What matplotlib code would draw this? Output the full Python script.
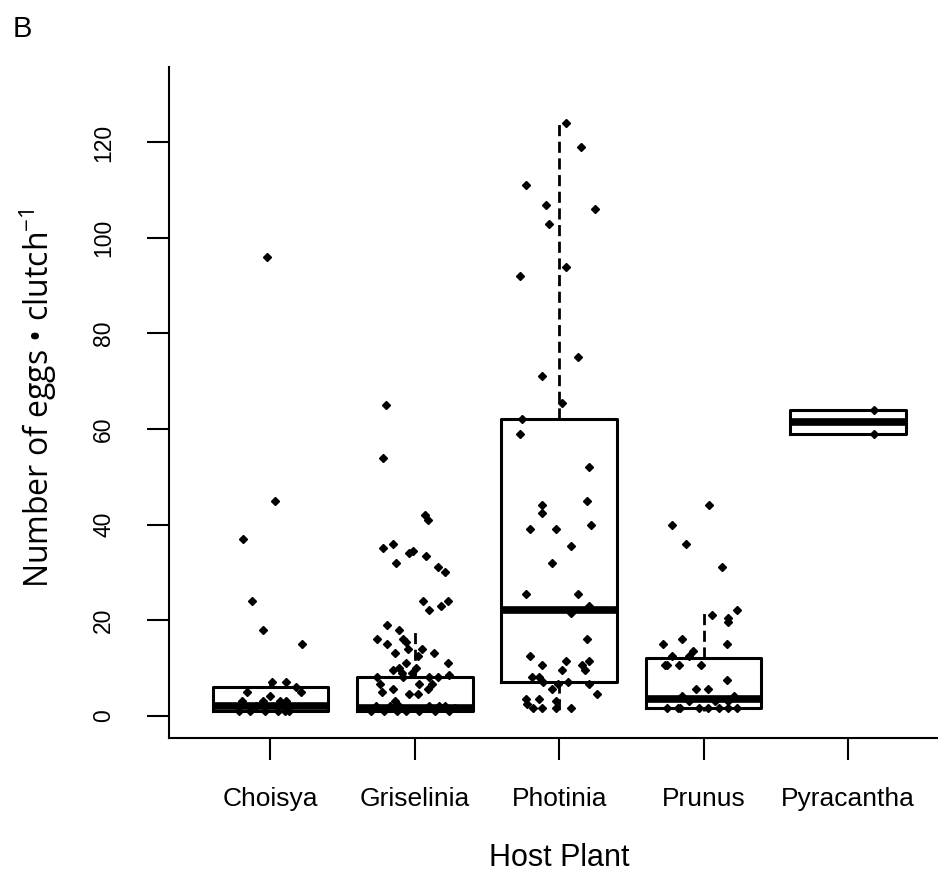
import matplotlib
matplotlib.use("Agg")
import matplotlib.pyplot as plt
import numpy as np

plants = ["Choisya", "Griselinia", "Photinia", "Prunus", "Pyracantha"]

# box statistics (R style hinges, whiskers, no outlier marks)
q1 = [1, 1, 7, 1.5, 59]
med = [2, 1.5, 22, 3.5, 61.5]
q3 = [6, 8, 62, 12, 64]
whislo = [1, 1, 1, 1, 59]
whishi = [7, 18, 124, 22, 64]

# eggs per clutch, with the horizontal jitter seen in the figure (category units)
choisya = [96, 45, 37, 24, 18, 15, 7, 7, 6, 5, 5, 4, 3, 3, 3, 3, 2, 1, 1, 1, 1, 1, 1]
choisya_jit = [-0.02, 0.03, -0.19, -0.13, -0.05, 0.22, 0.11, 0.01, 0.18, 0.21, -0.16, 0.0,
               -0.20, -0.05, 0.07, 0.11, -0.10, -0.22, -0.04, 0.05, 0.10, 0.13, -0.14]

griselinia = [65, 54, 42, 41, 35, 36, 32, 34, 34.5, 33.5, 31, 30, 24, 22, 23, 24, 19, 18,
              16, 15, 16, 15.5, 14, 14, 13, 12.5, 13, 11, 10, 10, 11, 9.5, 9, 9, 8.5, 8,
              8, 8, 8, 6.5, 5, 5.5, 6.5, 5.5, 6.5, 4.5, 4.5, 2, 2, 3, 2, 2, 2, 2, 1, 1.5,
              1, 1, 1, 1, 1, 1]
griselinia_jit = [-0.20, -0.22, 0.07, 0.09, -0.22, -0.15, -0.13, -0.04, -0.01, 0.08, 0.16,
                  0.21, 0.06, 0.10, 0.18, 0.23, -0.19, -0.11, -0.26, -0.19, -0.08, -0.06,
                  -0.05, 0.05, -0.14, 0.02, 0.13, -0.06, 0.01, -0.11, 0.23, -0.15, -0.09,
                  -0.02, 0.24, -0.26, 0.10, 0.16, -0.08, -0.24, -0.23, -0.15, 0.03, 0.09,
                  0.12, -0.04, 0.02, -0.27, -0.17, -0.14, -0.11, 0.10, 0.17, 0.21, 0.24,
                  0.28, -0.21, -0.12, -0.06, 0.03, 0.14, -0.30]

photinia = [124, 119, 111, 107, 106, 103, 94, 92, 75, 71, 65.5, 62, 59, 52, 44, 42.5, 45,
            39, 39, 40, 35.5, 32, 25.5, 25.5, 23, 21.5, 16, 12.5, 10.5, 11.5, 9.5, 10.5,
            11.5, 9.5, 8, 8, 7, 5.5, 6.5, 7, 6.5, 4.5, 3.5, 2.5, 1.5, 3.5, 1.5, 3, 1.5, 1.5]
photinia_jit = [0.05, 0.15, -0.23, -0.09, 0.25, -0.07, 0.05, -0.27, 0.13, -0.12, 0.02,
                -0.26, -0.27, 0.21, -0.12, -0.12, 0.19, -0.20, -0.02, 0.22, 0.08, -0.05,
                -0.23, 0.13, 0.21, 0.08, 0.19, -0.20, -0.12, 0.05, 0.02, 0.16, 0.21, 0.18,
                -0.19, -0.14, -0.11, -0.05, -0.01, 0.06, 0.21, 0.26, -0.23, -0.22, -0.18,
                -0.14, -0.12, -0.02, -0.02, 0.08]

prunus = [44, 40, 36, 31, 22, 21, 20.5, 19.5, 15, 16, 15, 13.5, 12.5, 12.5, 10.5, 10.5,
          10.5, 10.5, 7.5, 5.5, 5.5, 4, 4, 1.5, 1.5, 1.5, 1.5, 1.5, 1.5, 1.5, 1.5, 3, 3, 3]
prunus_jit = [0.04, -0.22, -0.12, 0.13, 0.23, 0.06, 0.17, 0.17, -0.28, -0.15, 0.16, -0.07,
              -0.10, -0.22, -0.27, -0.25, -0.17, -0.02, 0.16, -0.05, 0.03, -0.15, 0.21,
              -0.25, -0.18, -0.16, -0.03, 0.03, 0.11, 0.17, 0.23, -0.10, 0.08, 0.17]

pyracantha = [59, 64]
pyracantha_jit = [0.18, 0.18]

values = [choisya, griselinia, photinia, prunus, pyracantha]
jitter = [choisya_jit, griselinia_jit, photinia_jit, prunus_jit, pyracantha_jit]

plt.rcParams['font.family'] = ['Liberation Sans', 'DejaVu Sans']
plt.rcParams['mathtext.fontset'] = 'custom'
plt.rcParams['mathtext.rm'] = 'Open Sans'

fig = plt.figure(figsize=(9.38, 8.82), dpi=100)
ax = fig.add_axes([0.1805, 0.1633, 0.8312, 0.7607])

stats = []
for i in range(len(plants)):
    stats.append(dict(q1=q1[i], med=med[i], q3=q3[i], whislo=whislo[i],
                      whishi=whishi[i], fliers=[]))

pos = np.arange(1, len(plants) + 1)
ax.bxp(stats, positions=pos, widths=0.8, showcaps=False, showfliers=False,
       boxprops=dict(color='black', linewidth=2.2),
       medianprops=dict(color='black', linewidth=5.5, solid_capstyle='butt'),
       whiskerprops=dict(color='black', linewidth=2.0, linestyle=(0, (4, 2))))

for i in range(len(plants)):
    x = pos[i] + np.array(jitter[i])
    ax.plot(x, values[i], linestyle='none', marker='D', markersize=4.5,
            color='black', zorder=5)

ax.set_xlim(0.3, 5.7)
ax.set_ylim(-4.7, 135.8)
ax.set_xticks(pos)
ax.set_xticklabels(plants, fontsize=19)
ax.set_yticks([0, 20, 40, 60, 80, 100, 120])
ax.set_yticklabels(['0', '20', '40', '60', '80', '100', '120'], rotation=90,
                   va='center', fontsize=16.5)
ax.tick_params(axis='both', length=16, width=1.5, color='black')
ax.tick_params(axis='x', pad=19)
ax.tick_params(axis='y', pad=23)

ax.spines['top'].set_visible(False)
ax.spines['right'].set_visible(False)
ax.spines['left'].set_linewidth(1.5)
ax.spines['bottom'].set_linewidth(1.5)

fig.text(559 / 938, 1 - 858 / 882, 'Host Plant', ha='center', va='center', fontsize=22)
fig.text(38 / 938, 1 - 398 / 882, r'Number of eggs • clutch$^{\mathrm{-1}}$',
         rotation=90, ha='center', va='center', fontsize=23, family='Open Sans')
fig.text(22 / 938, 1 - 29 / 882, 'B', ha='center', va='center', fontsize=21)

fig.savefig('out.png', dpi=100)
